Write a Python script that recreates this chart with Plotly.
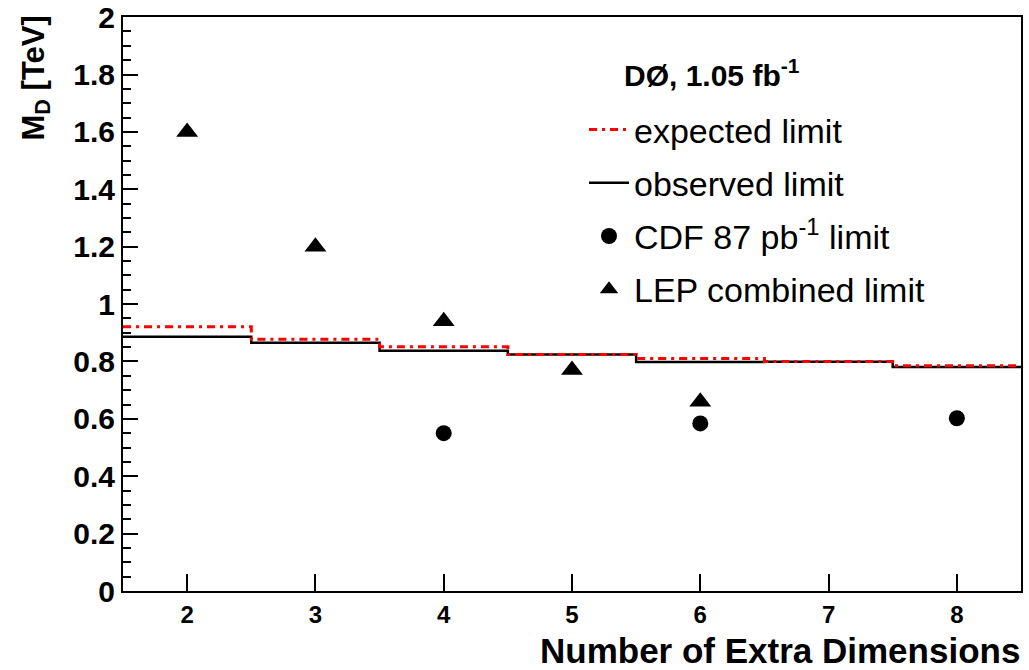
import plotly.graph_objects as go

# ---- data ----
dims = [2, 3, 4, 5, 6, 7, 8]
observed = [0.886, 0.865, 0.837, 0.824, 0.798, 0.799, 0.781]
expected = [0.921, 0.877, 0.851, 0.824, 0.810, 0.800, 0.785]
cdf_dims = [4, 6, 8]
cdf_limit = [0.55, 0.584, 0.602]
lep_dims = [2, 3, 4, 5, 6]
lep_limit = [1.60, 1.20, 0.94, 0.77, 0.66]
y_ticks = [0, 0.2, 0.4, 0.6, 0.8, 1, 1.2, 1.4, 1.6, 1.8, 2]

FONT = "Liberation Sans"

def step(xs, ys):
    ex = [x - 0.5 for x in xs] + [xs[-1] + 0.5]
    ey = list(ys) + [ys[-1]]
    return ex, ey

fig = go.Figure()
ox, oy = step(dims, observed)
exx, exy = step(dims, expected)

fig.add_trace(go.Scatter(x=ox, y=oy, mode="lines", line_shape="hv",
                         line=dict(color="black", width=2.5),
                         name="observed limit", legendgroup="b", legendrank=2))
fig.add_trace(go.Scatter(x=exx, y=exy, mode="lines", line_shape="hv",
                         line=dict(color="#ff0000", width=3, dash="8px,5px,3px,5px"),
                         name="expected limit", legendgroup="a", legendrank=1))
fig.add_trace(go.Scatter(x=cdf_dims, y=cdf_limit, mode="markers",
                         marker=dict(symbol="circle", size=16, color="black"),
                         name="CDF 87 pb<sup>-1</sup> limit", legendgroup="c", legendrank=3))
fig.add_trace(go.Scatter(x=lep_dims, y=lep_limit, mode="markers",
                         marker=dict(symbol="triangle-up", size=19, color="black"),
                         name="LEP combined limit", legendgroup="d", legendrank=4))

fig.update_layout(
    width=1029, height=670,
    margin=dict(l=123, r=8, t=17, b=79, autoexpand=False),
    paper_bgcolor="white", plot_bgcolor="white",
    showlegend=True,
    legend=dict(x=(584 - 123) / 898, y=1 - (101 - 17) / 574, xanchor="left", yanchor="top",
                font=dict(family=FONT, size=34, color="black"),
                bgcolor="rgba(0,0,0,0)", tracegroupgap=6, traceorder="grouped",
                itemwidth=40),
    xaxis=dict(range=[1.5, 8.5], showgrid=False, zeroline=False, automargin=False,
               showline=True, linecolor="black", linewidth=2, mirror=True,
               tickmode="array", tickvals=dims, ticks="inside", ticklen=17,
               tickcolor="black", tickwidth=1.5,
               tickfont=dict(family=FONT, size=24, color="black", weight="bold"),
               ticklabelstandoff=1),
    yaxis=dict(range=[0, 2.0005], showgrid=False, zeroline=False, automargin=False,
               showline=True, linecolor="black", linewidth=2, mirror=True,
               tickmode="array", tickvals=y_ticks, ticks="inside", ticklen=15,
               tickcolor="black", tickwidth=1.5, ticklabeloverflow="allow",
               tickfont=dict(family=FONT, size=30, color="black", weight="bold"),
               minor=dict(ticks="inside", ticklen=8, dtick=0.05, tickcolor="black",
                          tickwidth=1.5, showgrid=False)),
    annotations=[
        dict(text="<b>DØ, 1.05 fb<sup>-1</sup></b>", xref="paper", yref="paper",
             x=(622 - 123) / 898, y=1 - (73 - 17) / 574, xanchor="left", yanchor="middle",
             showarrow=False, font=dict(family=FONT, size=30, color="black")),
        dict(text="<b>Number of Extra Dimensions</b>", xref="paper", yref="paper",
             x=1 + 1 / 898, y=-(650 - 591) / 574, xanchor="right", yanchor="middle",
             showarrow=False, font=dict(family=FONT, size=35, color="black")),
        dict(text="<b>M<sub>D</sub> [TeV]</b>", xref="paper", yref="paper",
             x=-(123 - 36) / 898, y=1 + 3 / 574, xanchor="center", yanchor="top",
             textangle=-90, showarrow=False,
             font=dict(family=FONT, size=31, color="black")),
    ],
)

fig.write_html("out.html")
